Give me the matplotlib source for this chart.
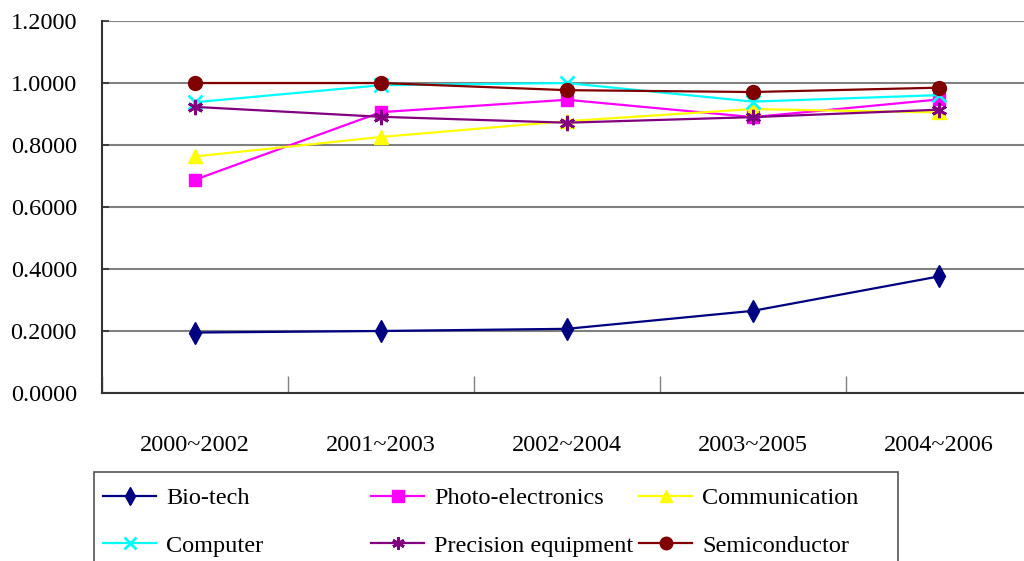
import matplotlib.pyplot as plt
from matplotlib.patches import Rectangle

plt.rcParams['font.family'] = ['Liberation Serif', 'DejaVu Serif']

periods = ['2000~2002', '2001~2003', '2002~2004', '2003~2005', '2004~2006']

bio_tech = [0.195, 0.200, 0.207, 0.265, 0.376]
photo_electronics = [0.688, 0.906, 0.946, 0.890, 0.947]
communication = [0.763, 0.826, 0.877, 0.916, 0.905]
computer = [0.938, 0.993, 1.000, 0.940, 0.961]
precision_equipment = [0.923, 0.891, 0.872, 0.890, 0.914]
semiconductor = [1.000, 1.000, 0.977, 0.971, 0.985]

series = [
    ('Bio-tech', bio_tech, '#000080', 'd', 11, 1.0),
    ('Photo-electronics', photo_electronics, '#FF00FF', 's', 9, 1.0),
    ('Communication', communication, '#FFFF00', '^', 10, 1.0),
    ('Computer', computer, '#00FFFF', 'x', 10, 2.0),
    ('Precision equipment', precision_equipment, '#800080', (6, 2, 0), 11, 2.0),
    ('Semiconductor', semiconductor, '#800000', 'o', 10, 1.0),
]

FS = 17.5

fig = plt.figure(figsize=(10.24, 5.61), dpi=100)
ax = fig.add_axes([0.0996, 0.2995, 0.908, 0.663])

xs = [i + 0.5 for i in range(len(periods))]
handles = []
for name, vals, color, marker, ms, mew in series:
    line, = ax.plot(xs, vals, color=color, lw=1.6, marker=marker, ms=ms,
                    mec=color, mfc=color, mew=mew, label=name, clip_on=False)
    handles.append(line)

ax.set_xlim(0, 5)
ax.set_ylim(0, 1.2)
ax.set_yticks([0.0, 0.2, 0.4, 0.6, 0.8, 1.0, 1.2])
ax.set_yticklabels([f'{v:.4f}' for v in ax.get_yticks()])
ax.set_xticks(range(6))
ax.set_xticklabels([])
ax.set_xticks(xs, minor=True)
ax.set_xticklabels(periods, minor=True)

ax.yaxis.grid(True, color='#808080', lw=1.5)
ax.set_axisbelow(True)
ax.tick_params(axis='y', direction='in', length=5, width=1.2, color='#333333',
               labelsize=FS, pad=18)
ax.tick_params(axis='x', which='major', direction='in', length=12, width=1,
               color='#808080')
ax.tick_params(axis='x', which='minor', length=0, labelsize=FS, pad=30)
for s in ['top', 'right']:
    ax.spines[s].set_visible(False)
for s in ['left', 'bottom']:
    ax.spines[s].set_color('#333333')
    ax.spines[s].set_linewidth(1.5)

# legend frame running off the bottom edge
fig.patches.append(Rectangle((94 / 1024, -0.05), (898 - 94) / 1024,
                             0.05 + (561 - 472) / 561, transform=fig.transFigure,
                             fill=False, edgecolor='#555555', lw=1.2))

col_x = [103 / 1024, 371 / 1024, 639 / 1024]
for c in range(3):
    pair = [handles[c], handles[c + 3]]
    leg = fig.legend(pair, [h.get_label() for h in pair], loc='upper left',
                     bbox_to_anchor=(col_x[c], (561 - 487) / 561), frameon=False,
                     fontsize=FS, handlelength=2.2, handletextpad=0.4,
                     labelspacing=1.05, borderpad=0, borderaxespad=0)
    for h in leg.legend_handles:
        h.set_markersize(9)

fig.savefig('out.png', dpi=100)
